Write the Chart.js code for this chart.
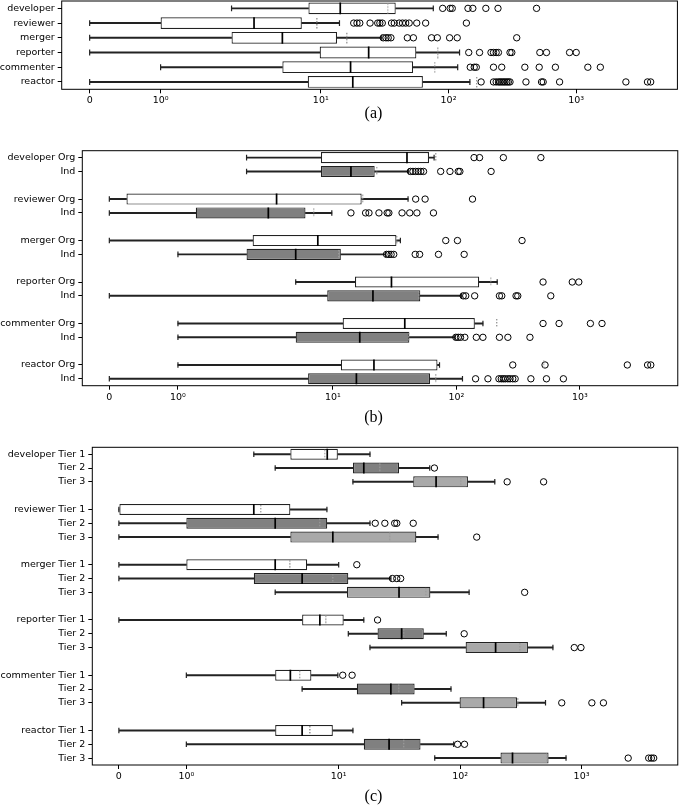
<!DOCTYPE html>
<html>
<head>
<meta charset="utf-8">
<script src="https://cdn.jsdelivr.net/npm/chart.js@4.4.0/dist/chart.umd.min.js"></script>
<style>
  body { margin: 0; background: #fff; }
  #wrap { position: relative; width: 685px; height: 805px; overflow: hidden; }
  canvas { position: absolute; left: 0; }
  .cap { position: absolute; font-family: 'Liberation Serif', serif; font-size: 16px; transform: translate(-50%, -50%); }
</style>
</head>
<body>
<div id="wrap">
  <canvas id="chartA" width="685" height="119" style="top:-9px"></canvas>
  <div class="cap" style="left:373.5px; top:112.5px">(a)</div>
  <canvas id="chartB" width="685" height="265" style="top:140px"></canvas>
  <div class="cap" style="left:373.5px; top:417px">(b)</div>
  <canvas id="chartC" width="685" height="348" style="top:437px"></canvas>
  <div class="cap" style="left:373.5px; top:796px">(c)</div>
</div>
<script>
// roles and x ticks
var roles = ['developer', 'reviewer', 'merger', 'reporter', 'commenter', 'reactor'];
var xTicks = [0, 1, 10, 100, 1000];
var xTickText = ['0', '10\u2070', '10\u00b9', '10\u00b2', '10\u00b3'];

// (a) all contributors
var aLow  = [2, 0, 0, 0, 1, 0];
var aQ1   = [8.0, 1.0, 2.0, 9.8, 5.0, 7.9];
var aMed  = [14.2, 3.0, 5.0, 23.7, 17.1, 17.8];
var aQ3   = [38.6, 7.1, 13.4, 56, 52.8, 63];
var aHigh = [76, 14, 30, 122, 118, 147];
var aMean = [33.3, 9.4, 16.1, 83, 78, 167];
var aFliers = [
  [90, 103, 107, 142, 155, 196, 244, 489],
  [18.1, 19.2, 20.2, 24.3, 27.9, 29, 30.3, 35.8, 37.6, 41.1, 43.6, 46.2, 49.2, 56.4, 66.2, 138],
  [30.8, 32.4, 33.7, 35.4, 47.6, 53.1, 73.6, 81.7, 102, 117, 342],
  [144, 175, 215, 225, 236, 246, 303, 313, 519, 585, 887, 1000],
  [148, 159, 165, 225, 261, 396, 513, 687, 1233, 1545],
  [180, 225, 236, 246, 253, 261, 269, 277, 286, 294, 303, 404, 535, 551, 741, 2449, 3614, 3829]
];

// (b) Org / Ind per role
var bSub  = ['Org', 'Ind'];
var bLow  = [2, 2, 0, 0, 0, 1, 5, 0, 1, 1, 1, 0];
var bQ1   = [8, 8, 0.25, 1.26, 2.24, 2, 15.1, 9, 12, 5, 11.6, 6.3];
var bMed  = [39.8, 14, 3.5, 3.0, 7.55, 5.0, 29.8, 21.1, 38.2, 16.5, 21.5, 15.5];
var bQ3   = [60, 21.8, 17.1, 6, 32.7, 11.6, 153, 51, 141, 41.6, 70.3, 61.2];
var bHigh = [66, 41, 40.6, 9.8, 35.2, 26.7, 214, 110, 164, 97, 73, 112];
var bMean = [68.5, 22.6, 17.5, 7.0, 33, 11.3, 189, 50, 213, 41, 510, 68.4];
var bFliers = [
  [139, 154, 240, 483],
  [42.4, 44.5, 46.8, 49.1, 51.5, 54.2, 74.6, 88.7, 103.5, 106.7, 191],
  [46.8, 55.8, 135],
  [14, 18.4, 19.6, 23.6, 27.5, 28.4, 36.3, 41.9, 47.9, 65.2],
  [82, 102, 340],
  [27.2, 28.4, 29.6, 31.1, 46.4, 50.4, 71.6, 115.6],
  [503, 867, 980],
  [113.5, 119, 140.6, 223, 233, 304, 314, 581],
  [503, 678, 1216, 1510],
  [99, 103.5, 108, 117, 145, 164, 223, 261, 394],
  [286, 522, 2421, 3531, 3750],
  [143, 180, 221, 231, 240, 249, 261, 272, 286, 299, 401, 536, 735]
];

// (c) Tier 1 / 2 / 3 per role
var cSub  = ['Tier 1', 'Tier 2', 'Tier 3'];
var cLow  = [2, 3, 13.1, 0, 0, 0, 0, 0, 3, 0, 12, 18.1, 1, 5, 33, 0, 1, 61.8];
var cQ1   = [4, 13.1, 41.1, 0, 1, 4, 1, 2, 11.7, 5, 20.9, 111, 3, 14.1, 99, 3, 16.1, 215];
var cMed  = [8.05, 16.1, 63.4, 2, 3, 8.95, 3, 5, 31.4, 7, 33, 196, 4, 26.9, 156, 5, 26, 270];
var cQ3   = [9.84, 31.4, 116, 4, 8.05, 43.6, 5.5, 12, 56.9, 11, 50.2, 362, 5.96, 42.2, 294, 8.95, 47.2, 535];
var cHigh = [18.1, 56.2, 193, 8, 18.1, 65.8, 10, 26.9, 118.6, 16.1, 76.9, 581, 9.84, 84.1, 505, 13.1, 88.5, 745];
var cMean = [7.66, 22, 101, 2.28, 7, 26.5, 4, 9, 51.9, 7.9, 34.5, 313, 4.79, 31.4, 301, 5.85, 34.5, 520];
var cFliers = [
  [], [61.4], [244, 487],
  [], [20, 24, 28.9, 30.1, 41.1], [137],
  [14.1], [27.7, 30.1, 32.4], [340],
  [20.9], [108], [871, 989],
  [10.8, 12.9], [], [687, 1216, 1514],
  [], [95.3, 108.7], [2421, 3573, 3758, 3926]
];

// symlog axis, linthresh 2, linscale 1
var LINTHRESH = 2, LINSCALE = 1 / (1 - 1 / 10);
function symT(v) {
  var a = Math.abs(v);
  var t = a <= LINTHRESH ? a / LINTHRESH * LINSCALE : LINSCALE + Math.log10(a / LINTHRESH);
  return v < 0 ? -t : t;
}
function symInv(t) {
  var a = Math.abs(t);
  var v = a <= LINSCALE ? a / LINSCALE * LINTHRESH : LINTHRESH * Math.pow(10, a - LINSCALE);
  return t < 0 ? -v : v;
}
class SymlogScale extends Chart.LinearScale {
  buildTicks() {
    return xTicks.map(function (v) { return { value: v }; });
  }
  getPixelForValue(v) {
    var t0 = symT(this.min), t1 = symT(this.max);
    return this.getPixelForDecimal((symT(v) - t0) / (t1 - t0));
  }
  getValueForPixel(p) {
    var t0 = symT(this.min), t1 = symT(this.max);
    return symInv(t0 + this.getDecimalForPixel(p) * (t1 - t0));
  }
}
SymlogScale.id = 'symlog';
SymlogScale.defaults = {};
Chart.register(SymlogScale);

var frame = {
  id: 'frame',
  afterDatasetsDraw: function (chart) {
    var ctx = chart.ctx, a = chart.chartArea;
    ctx.save();
    ctx.strokeStyle = '#000';
    ctx.lineWidth = 1;
    ctx.strokeRect(a.left, a.top, a.right - a.left, a.bottom - a.top);
    ctx.restore();
  }
};

function dotLine(h) {
  var c = document.createElement('canvas');
  c.width = 2; c.height = Math.round(h);
  var g = c.getContext('2d');
  g.fillStyle = '#9a9a9a';
  for (var y = 1; y < c.height - 1; y += 3) g.fillRect(0, y, 1.4, 1.4);
  return c;
}

var font = { family: 'DejaVu Sans', size: 9.5 };

function makePanel(id, subs, fills, st, geo) {
  var names = [], shown = [], slotOf = [];
  roles.forEach(function (r, g) {
    subs.forEach(function (s, k) {
      slotOf.push(names.length);
      names.push(s ? r + ' ' + s : r);
      shown.push(s ? (k === 0 ? r + ' ' + s : s) : r);
    });
    if (subs.length > 1 && g < roles.length - 1) { names.push('gap' + g); shown.push(''); }
  });
  var n = names.length;
  var slot = (geo.bottom - geo.top) / n;
  var box = [], wl = [], wh = [], bg = [];
  for (var i = 0; i < n; i++) { box.push(null); wl.push(null); wh.push(null); bg.push('#fff'); }
  var caps = [], meds = [], means = [], fl = [];
  st.q1.forEach(function (q1, i) {
    var k = slotOf[i], y = names[k];
    box[k] = [q1, st.q3[i]];
    wl[k] = [st.low[i], q1];
    wh[k] = [st.q3[i], st.high[i]];
    bg[k] = fills[i % subs.length];
    caps.push({ x: st.low[i], y: y }, { x: st.high[i], y: y });
    meds.push({ x: st.med[i], y: y });
    means.push({ x: st.mean[i], y: y });
    st.fliers[i].forEach(function (v) { fl.push({ x: v, y: y }); });
  });

  return new Chart(document.getElementById(id), {
    type: 'bar',
    data: {
      labels: names,
      datasets: [
        { type: 'scatter', data: meds, order: 0, pointStyle: 'line', pointRotation: 90,
          pointRadius: slot * 0.4, pointBorderColor: '#000', pointBorderWidth: 1.7 },
        { type: 'scatter', data: means, order: 1, pointStyle: dotLine(slot * 0.8), pointRadius: 5 },
        { type: 'scatter', data: fl, order: 2, pointStyle: 'circle', pointRadius: 3.2,
          pointBorderColor: '#000', pointBorderWidth: 1, pointBackgroundColor: 'rgba(0,0,0,0)' },
        { type: 'scatter', data: caps, order: 3, pointStyle: 'line', pointRotation: 90,
          pointRadius: slot * 0.2, pointBorderColor: '#222', pointBorderWidth: 1.2 },
        { data: box, order: 4, grouped: false, categoryPercentage: 1, barPercentage: 0.8,
          backgroundColor: bg, borderColor: '#222', borderWidth: 1.2, borderSkipped: false },
        { data: wl, order: 5, grouped: false, barThickness: 1.3, backgroundColor: '#222' },
        { data: wh, order: 5, grouped: false, barThickness: 1.3, backgroundColor: '#222' }
      ]
    },
    options: {
      indexAxis: 'y',
      animation: false,
      responsive: false,
      devicePixelRatio: 1,
      layout: { padding: { top: geo.pad, right: 1, left: 0, bottom: 0 } },
      plugins: { legend: { display: false }, tooltip: { enabled: false } },
      scales: {
        x: {
          type: 'symlog', min: -0.394, max: 6200,
          afterFit: function (s) { s.height = geo.xh; s.paddingLeft = 0; s.paddingRight = 0; },
          border: { display: false },
          grid: { drawOnChartArea: false, tickLength: 4, tickColor: '#000' },
          ticks: {
            autoSkip: false, maxRotation: 0, padding: 2, color: '#000', font: font,
            callback: function (v) { return xTickText[xTicks.indexOf(v)]; }
          }
        },
        y: {
          type: 'category', offset: true,
          afterFit: function (s) { s.width = geo.yw; s.paddingTop = 0; s.paddingBottom = 0; },
          border: { display: false },
          grid: {
            offset: false, drawOnChartArea: false, tickLength: 4,
            tickColor: function (c) { return shown[c.index] ? '#000' : 'rgba(0,0,0,0)'; }
          },
          ticks: {
            autoSkip: false, padding: 3, color: '#000', font: font,
            callback: function (v, i) { return shown[i]; }
          }
        }
      }
    },
    plugins: [frame]
  });
}

// geo: chart area top/bottom inside the canvas, x axis height, y axis width
makePanel('chartA', [''], ['#ffffff'],
  { low: aLow, q1: aQ1, med: aMed, q3: aQ3, high: aHigh, mean: aMean, fliers: aFliers },
  { pad: 10, top: 10, bottom: 98.3, xh: 20.7, yw: 61.7 });
makePanel('chartB', bSub, ['#ffffff', '#808080'],
  { low: bLow, q1: bQ1, med: bMed, q3: bQ3, high: bHigh, mean: bMean, fliers: bFliers },
  { pad: 10.7, top: 10.7, bottom: 245.7, xh: 19.3, yw: 82.3 });
makePanel('chartC', cSub, ['#ffffff', '#808080', '#a9a9a9'],
  { low: cLow, q1: cQ1, med: cMed, q3: cQ3, high: cHigh, mean: cMean, fliers: cFliers },
  { pad: 10.3, top: 10.3, bottom: 328, xh: 20, yw: 92.3 });
</script>
</body>
</html>
